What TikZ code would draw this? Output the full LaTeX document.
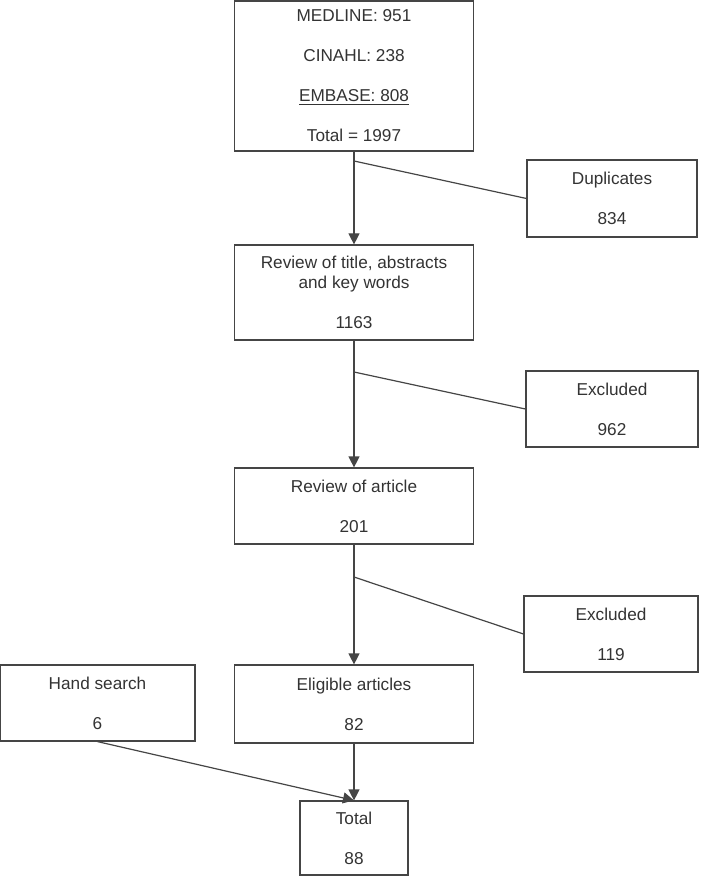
\documentclass[tikz,border=0pt]{standalone}
\usepackage{fontspec}
\setmainfont{Liberation Sans}
\usetikzlibrary{arrows.meta}

\definecolor{linegray}{HTML}{454545}
\definecolor{textgray}{HTML}{333333}

\begin{document}
\begin{tikzpicture}[x=0.5pt,y=-0.5pt,
        every node/.style={draw=linegray,line width=0.6pt,rectangle,inner sep=0pt,
            align=center,text=textgray,font=\fontsize{8.6}{10}\selectfont},
        wide/.style={minimum width=119.5pt},
        side/.style={minimum width=86pt,minimum height=38pt},
        link/.style={draw=linegray,line width=0.6pt},
        arr/.style={link,-{Triangle[length=5.5pt,width=5.5pt]}}]

    \useasboundingbox (0,0) rectangle (700,876);

    % main column
    \node[wide,minimum height=75pt] (search) at (354,76)
        {MEDLINE: 951\\[10pt]CINAHL: 238\\[10pt]\underline{EMBASE: 808}\\[10pt]Total = 1997};
    \node[wide,minimum height=47.5pt] (titles) at (354,292.5)
        {Review of title, abstracts\\and key words\\[10pt]1163};
    \node[wide,minimum height=38pt] (article) at (354,506) {Review of article\\[10pt]201};
    \node[wide,minimum height=39pt] (eligible) at (354,704) {Eligible articles\\[10pt]82};
    \node[minimum width=54pt,minimum height=37pt] (total) at (354,838) {Total\\[10pt]88};

    % side boxes
    \node[side,minimum height=38.5pt,minimum width=85pt] (dups) at (612,198.5) {Duplicates\\[10pt]834};
    \node[side] (excl1) at (612,409) {Excluded\\[10pt]962};
    \node[side,minimum width=87pt] (excl2) at (611,634) {Excluded\\[10pt]119};
    \node[minimum width=97.5pt,minimum height=38pt] (hand) at (97.5,703) {Hand search\\[10pt]6};

    \coordinate (split1) at (354,161);
    \coordinate (split2) at (354,372);
    \coordinate (split3) at (354,577);

    \draw[arr] (search.south) -- (titles.north);
    \draw[arr] (titles.south) -- (article.north);
    \draw[arr] (article.south) -- (eligible.north);
    \draw[arr] (eligible.south) -- (total.north);
    \draw[arr] (hand.south) -- (total.north);

    \draw[link] (split1) -- (dups.west);
    \draw[link] (split2) -- (excl1.west);
    \draw[link] (split3) -- (excl2.west);
\end{tikzpicture}
\end{document}
